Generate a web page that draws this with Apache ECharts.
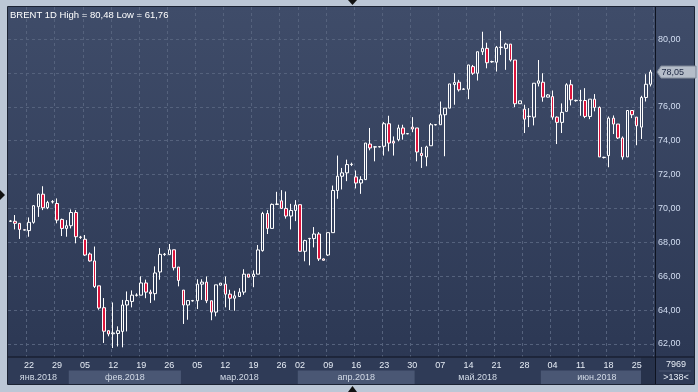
<!DOCTYPE html>
<html><head><meta charset="utf-8">
<script src="https://cdn.jsdelivr.net/npm/echarts@6/dist/echarts.min.js"></script>
<style>html,body{margin:0;padding:0;background:#bcc7d6;overflow:hidden}#c{width:698px;height:392px}</style>
</head><body><div id="c"></div>
<script>
// ---------------- data ----------------
const titleText = 'BRENT 1D High = 80,48 Low = 61,76';
const startDate = '2018-01-17';
const endDate = '2018-06-28';
const closedDays = ['2018-03-30', '2018-04-01'];
const monthLabels = ['янв.2018', 'фев.2018', 'мар.2018', 'апр.2018', 'май.2018', 'июн.2018'];
const yTicks = [62, 64, 66, 68, 70, 72, 74, 76, 78, 80];
const yMin = 61.23, yMax = 81.89;
const lastPrice = 78.05;
const counterTexts = ['7969', '>138<'];

const opens = [
69.24,69.24,69.12,68.74,68.69,69.18,70.10,70.84,70.04,70.38,
70.29,69.35,68.82,68.98,69.76,68.31,68.18,67.31,66.90,65.43,
64.14,62.78,62.60,62.62,62.74,64.30,64.51,64.87,64.88,65.60,
65.06,64.97,66.25,67.28,67.27,67.56,66.54,65.18,64.30,64.54,
64.55,65.53,65.65,64.55,63.88,65.47,65.53,64.94,64.70,64.80,
65.06,66.12,65.98,66.12,67.51,69.70,68.82,70.24,70.45,70.00,
69.55,69.88,70.22,67.47,68.21,68.22,68.49,67.02,67.25,68.57,
71.06,71.90,72.10,72.59,71.86,71.50,71.70,73.80,73.62,73.63,
73.67,75.00,73.96,74.06,74.75,74.40,74.80,74.75,73.25,73.04,
73.70,74.93,74.94,75.53,75.92,77.31,77.45,77.03,77.04,78.37,
77.98,79.25,79.45,78.65,78.63,79.50,79.45,79.70,78.76,76.18,
75.86,75.42,75.39,77.39,77.45,76.57,76.60,75.39,75.08,75.73,
77.30,76.36,76.36,76.37,75.43,76.45,75.96,73.00,73.12,75.33,
74.98,74.16,73.04,75.78,75.39,74.80,76.55,77.33];
const closes = [
69.26,69.12,68.76,68.72,69.18,70.16,70.84,70.04,70.35,70.40,
69.31,68.82,68.98,69.76,68.33,68.29,67.25,66.90,65.39,64.12,
62.75,62.59,62.65,62.78,64.30,64.56,64.88,64.89,65.60,65.06,
64.97,66.19,67.29,67.30,67.56,66.50,65.75,64.30,64.56,64.56,
65.53,65.65,64.55,63.88,65.49,65.59,64.94,64.70,64.84,65.06,
66.12,65.94,66.12,67.55,69.70,68.82,70.24,70.26,70.00,69.55,
69.88,70.20,67.47,68.10,68.23,68.49,67.02,66.94,68.57,71.06,
71.90,72.10,72.59,72.61,71.50,71.70,73.86,73.57,73.64,73.65,
75.00,73.86,73.86,74.75,74.39,74.42,74.69,73.33,73.12,73.63,
74.94,74.95,75.53,75.92,77.35,77.43,77.00,77.05,78.47,77.98,
79.25,79.45,78.60,78.67,79.51,79.52,79.70,78.76,76.18,76.35,
75.27,75.44,77.39,77.53,76.57,76.70,75.39,75.08,75.67,77.30,
76.41,76.38,76.38,75.43,76.45,75.96,73.04,73.02,75.33,74.98,
74.16,73.04,75.78,75.53,74.88,76.55,77.33,78.05];
const lows = [
69.20,68.76,68.20,68.70,68.33,69.10,69.50,69.90,69.96,70.29,
69.12,68.37,68.33,68.82,67.94,68.20,67.20,66.86,65.30,64.02,
62.06,62.45,61.76,61.85,61.80,62.74,64.16,64.80,64.88,64.70,
64.42,64.57,65.79,67.20,67.27,66.34,65.40,63.18,63.43,64.50,
64.06,64.60,64.41,63.40,63.63,65.45,64.16,64.00,63.96,64.80,
64.90,65.94,65.35,66.12,67.45,68.49,68.82,70.20,70.00,69.40,
68.76,69.25,67.47,66.88,66.64,67.70,66.90,66.92,67.20,68.57,
70.57,71.12,71.61,72.50,71.18,70.86,71.70,73.43,72.78,73.60,
73.12,73.37,73.12,73.96,74.06,74.38,74.50,72.78,72.39,72.49,
73.70,74.90,74.94,73.08,75.92,76.12,76.90,77.00,76.45,77.88,
77.55,79.06,78.27,78.60,78.08,79.06,78.18,78.67,75.98,76.18,
74.45,74.80,74.90,77.20,76.30,76.55,75.24,73.80,74.45,75.73,
76.08,76.30,75.47,75.33,75.27,75.73,73.04,72.95,72.43,74.39,
74.10,72.88,73.04,75.33,73.73,74.10,76.31,77.20];
const highs = [
69.30,69.61,69.14,68.76,69.47,70.20,70.88,71.31,70.45,70.49,
70.59,69.40,69.31,69.94,69.90,68.38,68.43,67.40,67.75,65.43,
64.71,62.80,64.45,63.04,64.60,65.10,65.16,64.99,65.99,65.80,
65.20,66.58,67.66,67.37,67.90,67.56,66.54,65.18,64.56,64.60,
65.82,65.82,65.98,64.55,65.49,65.60,65.98,65.20,65.14,65.29,
66.41,66.12,66.35,67.84,69.80,69.90,70.29,70.98,71.08,71.00,
70.27,70.49,70.22,68.15,68.26,68.90,68.60,67.04,68.57,71.35,
73.12,72.39,72.88,72.70,72.24,71.90,73.86,74.75,73.67,73.67,
75.10,75.47,74.25,74.94,74.94,74.45,75.39,74.75,73.63,73.70,
75.04,74.97,76.31,75.92,77.35,77.98,77.59,77.10,78.47,78.47,
79.25,80.43,79.78,78.72,79.59,80.48,79.78,79.70,78.76,76.35,
76.12,75.92,77.39,78.76,77.98,76.75,76.96,75.43,76.20,77.39,
77.59,76.42,77.00,77.10,76.45,76.75,76.02,73.05,75.43,75.49,
74.98,74.25,75.78,75.78,75.39,76.65,77.92,78.18];

// trading days (Sunday sessions included, Saturdays and closed days skipped)
const categories = [];
for (let d = new Date(startDate + 'T00:00:00Z'); d <= new Date(endDate + 'T00:00:00Z'); d.setUTCDate(d.getUTCDate() + 1)) {
  const s = d.toISOString().slice(0, 10);
  if (d.getUTCDay() === 6 || closedDays.indexOf(s) >= 0) continue;
  categories.push(s);
}
const candles = opens.map((o, i) => [o, closes[i], lows[i], highs[i]]);

// ---------------- chart ----------------
const FONT = '"Liberation Sans", Arial, sans-serif';
const isMonday = v => new Date(v + 'T00:00:00Z').getUTCDay() === 1;
const chart = echarts.init(document.getElementById('c'), null, {renderer: 'canvas'});
const gridLine = {color: '#55627d', type: [3, 3], width: 1};

chart.setOption({
  backgroundColor: '#bcc7d6',
  animation: false,
  textStyle: {fontFamily: FONT},
  grid: {left: 8, top: 7, width: 645, height: 350},
  xAxis: {
    type: 'category', data: categories, boundaryGap: true,
    axisLine: {show: false}, axisTick: {show: false},
    axisLabel: {interval: (i, v) => isMonday(v), formatter: v => v.slice(8, 10),
      color: '#e6ecf5', fontSize: 9, margin: 4, fontFamily: FONT},
    splitLine: {show: true, interval: (i, v) => isMonday(v), lineStyle: gridLine}
  },
  yAxis: {
    type: 'value', position: 'right', min: yMin, max: yMax, scale: true,
    axisLine: {show: false},
    axisTick: {show: false, customValues: yTicks},
    axisLabel: {customValues: yTicks, formatter: v => v.toFixed(2).replace('.', ','),
      color: '#d3def2', fontSize: 9, margin: 5, fontFamily: FONT},
    splitLine: {show: true, lineStyle: gridLine}
  },
  series: [{
    type: 'candlestick', data: candles, barWidth: 3,
    itemStyle: {color: 'rgba(0,0,0,0)', color0: '#dc143c', borderColor: '#ffffff', borderColor0: '#ffffff', borderWidth: 1}
  }]
});

// ---------------- decorations placed through the axes ----------------
const xPix = i => chart.convertToPixel({xAxisIndex: 0}, i);
const yPix = v => chart.convertToPixel({yAxisIndex: 0}, v);
const bw = xPix(1) - xPix(0);
const PL = 8, PT = 7, PR = 655.5, PB = 357, RR = 694, BB = 384;
const plotGrad = {type: 'linear', x: 0, y: 0, x2: 0, y2: 1,
  colorStops: [{offset: 0, color: '#3f4c69'}, {offset: 1, color: '#2c3854'}]};
const els = [];
els.push({type: 'rect', z: -10, silent: true, shape: {x: PL, y: PT, width: PR - PL, height: PB - PT}, style: {fill: plotGrad}});
els.push({type: 'rect', z: -10, silent: true, shape: {x: PR, y: PT, width: RR - PR, height: PB - PT}, style: {fill: plotGrad}});
els.push({type: 'rect', z: -10, silent: true, shape: {x: PL, y: PB, width: RR - PL, height: BB - PB}, style: {fill: '#2f3b57'}});

// month bands + labels
const monthIdx = {};
categories.forEach((c, i) => {
  const m = +c.slice(5, 7) - 1;
  if (!monthIdx[m]) monthIdx[m] = [i, i]; else monthIdx[m][1] = i;
});
Object.keys(monthIdx).forEach(k => {
  const m = +k, r = monthIdx[k];
  const x0 = xPix(r[0]) - bw / 2, x1 = xPix(r[1]) + bw / 2;
  if (m % 2 === 1) {
    els.push({type: 'rect', z: -9, silent: true, shape: {x: x0, y: 370.5, width: x1 - x0, height: BB - 370.5}, style: {fill: '#4a5774'}});
  }
  els.push({type: 'text', z: 60, silent: true, x: (x0 + x1) / 2, y: 377.5,
    style: {text: monthLabels[m], fill: '#d2dae6', font: '9px ' + FONT, align: 'center', verticalAlign: 'middle', textAlign: 'center', textVerticalAlign: 'middle'}});
});
// dark strip at the end of the time scale
els.push({type: 'rect', z: -4, silent: true, shape: {x: 641, y: PB + 0.5, width: PR - 641, height: BB - PB - 0.5}, style: {fill: '#27324b'}});

// frame lines
els.push({type: 'line', z: 50, silent: true, shape: {x1: PR, y1: PT, x2: PR, y2: BB}, style: {stroke: '#0e1320', lineWidth: 1}});
els.push({type: 'line', z: 50, silent: true, shape: {x1: PL, y1: PB, x2: RR, y2: PB}, style: {stroke: '#0e1320', lineWidth: 1}});
els.push({type: 'rect', z: 50, silent: true, shape: {x: PL - 0.5, y: PT - 0.5, width: RR - PL + 1, height: BB - PT + 1}, style: {fill: 'none', stroke: '#1c2333', lineWidth: 1}});
els.push({type: 'line', z: 50, silent: true, shape: {x1: 659, y1: 371, x2: 691, y2: 371}, style: {stroke: '#4b5773', lineWidth: 1}});

// counters
els.push({type: 'text', z: 60, silent: true, x: 676, y: 365,
  style: {text: counterTexts[0], fill: '#e6ecf5', font: '9px ' + FONT, align: 'center', verticalAlign: 'middle', textAlign: 'center', textVerticalAlign: 'middle'}});
els.push({type: 'text', z: 60, silent: true, x: 676, y: 377.5,
  style: {text: counterTexts[1], fill: '#e6ecf5', font: '9px ' + FONT, align: 'center', verticalAlign: 'middle', textAlign: 'center', textVerticalAlign: 'middle'}});

// title
els.push({type: 'text', z: 60, silent: true, x: 10, y: 15,
  style: {text: titleText, fill: '#ffffff', font: '9.5px ' + FONT, align: 'left', verticalAlign: 'middle', textAlign: 'left', textVerticalAlign: 'middle'}});

// navigation triangles
els.push({type: 'polygon', z: 60, silent: true, shape: {points: [[348, 0], [357, 0], [352.5, 5]]}, style: {fill: '#111'}});
els.push({type: 'polygon', z: 60, silent: true, shape: {points: [[348, 392], [357, 392], [352.5, 386]]}, style: {fill: '#111'}});
els.push({type: 'polygon', z: 60, silent: true, shape: {points: [[0, 190], [0, 200], [5, 195]]}, style: {fill: '#111'}});

// last price tag
const py = yPix(lastPrice);
els.push({type: 'polygon', z: 70, silent: true,
  shape: {points: [[657, py], [661, py - 6], [696, py - 6], [696, py + 6], [661, py + 6]]},
  style: {fill: '#b5bdc9', stroke: '#808a9a', lineWidth: 1}});
els.push({type: 'text', z: 71, silent: true, x: 661.5, y: py + 0.5,
  style: {text: lastPrice.toFixed(2).replace('.', ','), fill: '#1a2540', font: '9px ' + FONT, align: 'left', verticalAlign: 'middle', textAlign: 'left', textVerticalAlign: 'middle'}});

chart.setOption({graphic: {elements: els}});
</script>
</body></html>
